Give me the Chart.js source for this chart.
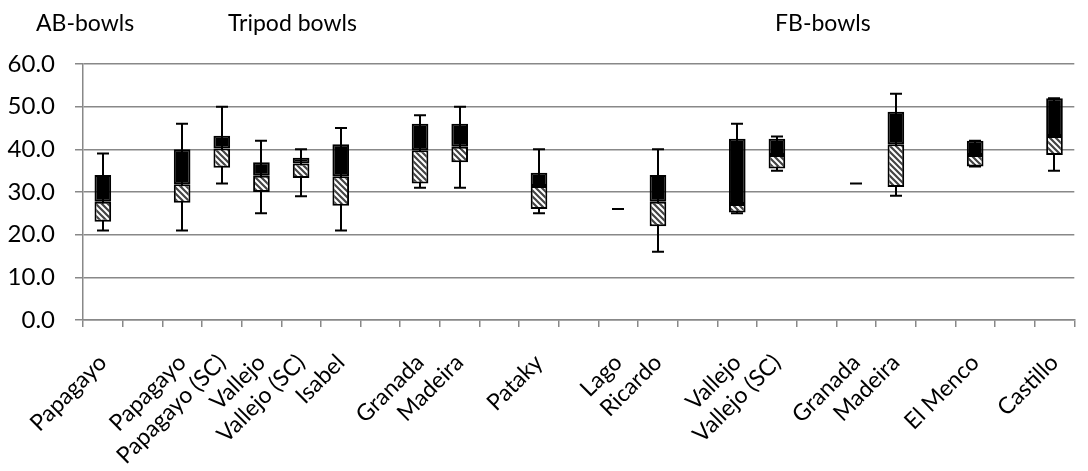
<!DOCTYPE html>
<html lang="en">
<head>
    <meta charset="UTF-8">
    <title>Bowls box plot</title>
    <script src="https://cdn.jsdelivr.net/npm/chart.js"></script>
    <style>
        body { margin: 0; width: 1088px; height: 471px; overflow: hidden; background: #fff; font-family: Lato, sans-serif; }
        .wrap { position: absolute; left: 0; top: 0; width: 1096px; height: 471px; }
        .group { position: absolute; top: 9px; font-size: 23px; line-height: 27px; color: #000; white-space: nowrap; }
    </style>
</head>
<body>
    <div class="wrap"><canvas id="box"></canvas></div>
    <div class="group" style="left:36px">AB-bowls</div>
    <div class="group" style="left:228px">Tripod bowls</div>
    <div class="group" style="left:775px">FB-bowls</div>

    <script>
        // categories (empty strings are the gaps between groups)
        const labels = ['Papagayo', '', 'Papagayo', 'Papagayo (SC)', 'Vallejo', 'Vallejo (SC)', 'Isabel', '',
            'Granada', 'Madeira', '', 'Pataky', '', 'Lago', 'Ricardo', '', 'Vallejo', 'Vallejo (SC)', '',
            'Granada', 'Madeira', '', 'El Menco', '', 'Castillo'];

        // five number summaries
        const minVals = [21, null, 21, 32, 25, 29, 21, null, 31, 31, null, 25, null, 26, 16, null, 25, 35, null, 32, 29.1, null, 36, null, 35];
        const q1Vals  = [23, null, 27.5, 35.7, 30, 33.3, 26.8, null, 32, 37, null, 26, null, 26, 22, null, 25.2, 35.5, null, 32, 31.2, null, 36, null, 38.7];
        const medVals = [27.7, null, 31.8, 40.2, 33.8, 36.7, 33.7, null, 39.8, 40.6, null, 31.4, null, 26, 27.7, null, 27.2, 38.7, null, 32, 41.2, null, 38.7, null, 43.1];
        const q3Vals  = [34, null, 40, 43.2, 37, 38, 41.2, null, 46, 46, null, 34.5, null, 26, 34, null, 42.5, 42.5, null, 32, 48.8, null, 42, null, 52];
        const maxVals = [39, null, 46, 50, 42, 40, 45, null, 48, 50, null, 40, null, 26, 40, null, 46, 43, null, 32, 53, null, 42, null, 52];

        const yTicks = [0, 10, 20, 30, 40, 50, 60];

        function hatch() {
            const c = document.createElement('canvas');
            c.width = 6; c.height = 6;
            const g = c.getContext('2d');
            g.fillStyle = '#fff';
            g.fillRect(0, 0, 6, 6);
            g.strokeStyle = '#444';
            g.lineWidth = 2.2;
            g.beginPath();
            g.moveTo(-1, -1); g.lineTo(7, 7);
            g.moveTo(-7, -1); g.lineTo(1, 7);
            g.moveTo(5, -1); g.lineTo(13, 7);
            g.stroke();
            return g.createPattern(c, 'repeat');
        }

        // boxes only where there is a spread
        const hasBox = (i) => q1Vals[i] != null && q3Vals[i] > q1Vals[i];
        const lowerBox = labels.map((_, i) => hasBox(i) ? [q1Vals[i], medVals[i]] : null);
        const upperBox = labels.map((_, i) => hasBox(i) ? [medVals[i], q3Vals[i]] : null);

        const whiskers = {
            id: 'whiskers',
            beforeDatasetsDraw(chart) {
                const { ctx, scales: { x, y } } = chart;
                ctx.save();
                ctx.strokeStyle = '#000';
                ctx.lineWidth = 2;
                labels.forEach((_, i) => {
                    if (minVals[i] == null) return;
                    const px = Math.round(x.getPixelForValue(i));
                    const top = y.getPixelForValue(maxVals[i]);
                    const bot = y.getPixelForValue(minVals[i]);
                    ctx.beginPath();
                    ctx.moveTo(px, top); ctx.lineTo(px, bot);
                    ctx.moveTo(px - 6, top); ctx.lineTo(px + 6, top);
                    ctx.moveTo(px - 6, bot); ctx.lineTo(px + 6, bot);
                    ctx.stroke();
                });
                ctx.restore();
            }
        };

        const font = { family: 'Lato, sans-serif', size: 23 };

        new Chart(document.getElementById('box'), {
            type: 'bar',
            data: {
                labels: labels,
                datasets: [
                    {
                        data: lowerBox,
                        backgroundColor: hatch(),
                        borderColor: '#000',
                        borderWidth: 2,
                        borderSkipped: false,
                        barPercentage: 0.42,
                        categoryPercentage: 1
                    },
                    {
                        data: upperBox,
                        backgroundColor: '#000',
                        borderColor: '#000',
                        borderWidth: 2,
                        borderSkipped: false,
                        barPercentage: 0.42,
                        categoryPercentage: 1
                    }
                ]
            },
            options: {
                responsive: true,
                maintainAspectRatio: false,
                animation: false,
                layout: { padding: { top: 64, left: 0, right: 0, bottom: 0 } },
                plugins: { legend: { display: false }, tooltip: { enabled: false } },
                scales: {
                    x: {
                        stacked: true,
                        grid: { offset: true, drawOnChartArea: false, tickLength: 7, color: '#888', lineWidth: 1.5 },
                        border: { color: '#888', width: 1.5 },
                        ticks: { autoSkip: false, maxRotation: 45, minRotation: 45, padding: 22, color: '#000', font: font },
                        afterFit(s) { s.height = 151; }
                    },
                    y: {
                        stacked: false,
                        min: 0,
                        max: 60,
                        afterBuildTicks(s) { s.ticks = yTicks.map(v => ({ value: v })); },
                        grid: { color: '#888', lineWidth: 1.5, tickLength: 8 },
                        border: { color: '#888', width: 1.5 },
                        ticks: { padding: 20, color: '#000', font: { family: 'Lato, sans-serif', size: 24 }, callback: v => Number(v).toFixed(1) },
                        afterFit(s) { s.width = 83; }
                    }
                }
            },
            plugins: [whiskers]
        });
    </script>
</body>
</html>
